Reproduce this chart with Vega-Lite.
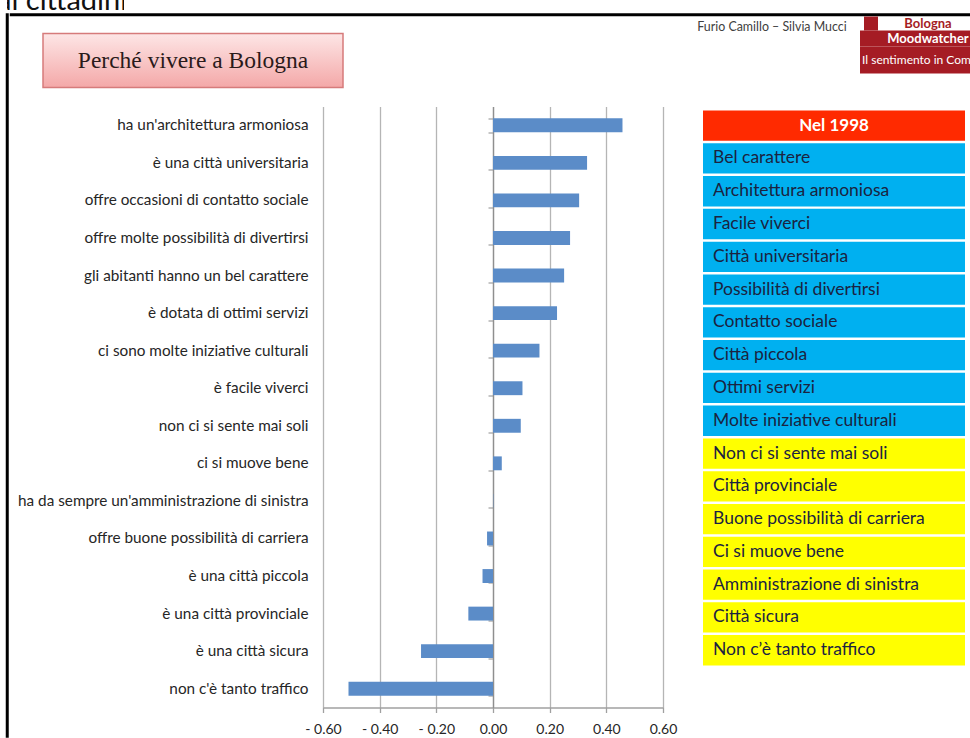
{
  "$schema": "https://vega.github.io/schema/vega-lite/v6.json",
  "background": "white",
  "padding": {"left": 5, "top": 0, "right": 0, "bottom": 0},
  "config": {"view": {"stroke": null}, "font": "Lato"},
  "datasets": {
    "testi": [
      {"ruolo": "intro", "testo": "ai cittadini."},
      {"ruolo": "titolo", "testo": "Perché vivere a Bologna"},
      {"ruolo": "autori", "testo": "Furio Camillo – Silvia Mucci"},
      {"ruolo": "logo1", "testo": "Bologna"},
      {"ruolo": "logo2", "testo": "Moodwatcher"},
      {"ruolo": "logo3", "testo": "Il sentimento in Comune"}
    ],
    "barre": [
      {"voce": "ha un'architettura armoniosa", "valore": 0.457},
      {"voce": "è una città universitaria", "valore": 0.332},
      {"voce": "offre occasioni di contatto sociale", "valore": 0.304},
      {"voce": "offre molte possibilità di divertirsi", "valore": 0.272},
      {"voce": "gli abitanti hanno un bel carattere", "valore": 0.251},
      {"voce": "è dotata di ottimi servizi", "valore": 0.226},
      {"voce": "ci sono molte iniziative culturali", "valore": 0.164},
      {"voce": "è facile viverci", "valore": 0.104},
      {"voce": "non ci si sente mai soli", "valore": 0.098},
      {"voce": "ci si muove bene", "valore": 0.031},
      {"voce": "ha da sempre un'amministrazione di sinistra", "valore": 0.001},
      {"voce": "offre buone possibilità di carriera", "valore": -0.021},
      {"voce": "è una città piccola", "valore": -0.037},
      {"voce": "è una città provinciale", "valore": -0.087},
      {"voce": "è una città sicura", "valore": -0.254},
      {"voce": "non c'è tanto traffico", "valore": -0.51}
    ],
    "tabella": [
      {"voce": "Nel 1998", "gruppo": "intestazione"},
      {"voce": "Bel carattere", "gruppo": "alto"},
      {"voce": "Architettura armoniosa", "gruppo": "alto"},
      {"voce": "Facile viverci", "gruppo": "alto"},
      {"voce": "Città universitaria", "gruppo": "alto"},
      {"voce": "Possibilità di divertirsi", "gruppo": "alto"},
      {"voce": "Contatto sociale", "gruppo": "alto"},
      {"voce": "Città piccola", "gruppo": "alto"},
      {"voce": "Ottimi servizi", "gruppo": "alto"},
      {"voce": "Molte iniziative culturali", "gruppo": "alto"},
      {"voce": "Non ci si sente mai soli", "gruppo": "basso"},
      {"voce": "Città provinciale", "gruppo": "basso"},
      {"voce": "Buone possibilità di carriera", "gruppo": "basso"},
      {"voce": "Ci si muove bene", "gruppo": "basso"},
      {"voce": "Amministrazione di sinistra", "gruppo": "basso"},
      {"voce": "Città sicura", "gruppo": "basso"},
      {"voce": "Non c’è tanto traffico", "gruppo": "basso"}
    ]
  },
  "spacing": 2.5,
  "vconcat": [
    {
      "width": 117, "height": 10,
      "data": {"name": "testi"},
      "transform": [{"filter": "datum.ruolo == 'intro'"}],
      "mark": {"type": "text", "clip": true, "fontSize": 29, "baseline": "alphabetic", "dy": 5, "color": "#111111", "font": "Lato"},
      "encoding": {"text": {"field": "testo"}}
    },
    {
      "spacing": 0,
      "hconcat": [
        {
          "width": 0.5, "height": 722,
          "data": {"values": []},
          "mark": {"type": "text", "text": ""},
          "view": {"stroke": "#000000", "strokeWidth": 2.5}
        },
        {
          "spacing": 0,
          "vconcat": [
            {
              "width": 958, "height": 0.5,
              "data": {"values": []},
              "mark": {"type": "text", "text": ""},
              "view": {"stroke": "#000000", "strokeWidth": 2.5}
            },
            {
              "spacing": 0,
              "hconcat": [
                {"width": 31, "height": 1, "data": {"values": []}, "mark": {"type": "text", "text": ""}},
                {
                  "spacing": 0,
                  "vconcat": [
                    {"width": 1, "height": 15.5, "data": {"values": []}, "mark": {"type": "text", "text": ""}},
                    {
                      "width": 300, "height": 54,
                      "data": {"name": "testi"},
                      "transform": [{"filter": "datum.ruolo == 'titolo'"}],
                      "mark": {"type": "text", "font": "Liberation Serif", "fontSize": 23.5, "color": "#2a1a1a"},
                      "encoding": {"text": {"field": "testo"}},
                      "view": {
                        "fill": {"gradient": "linear", "x1": 0, "y1": 0, "x2": 0, "y2": 1,
                          "stops": [{"offset": 0, "color": "#fde6e6"}, {"offset": 1, "color": "#f4a8a8"}]},
                        "stroke": "#d67b7b", "strokeWidth": 1.5
                      }
                    }
                  ]
                },
                {"width": 347.5, "height": 1, "data": {"values": []}, "mark": {"type": "text", "text": ""}},
                {
                  "width": 160, "height": 20,
                  "data": {"name": "testi"},
                  "transform": [{"filter": "datum.ruolo == 'autori'"}],
                  "mark": {"type": "text", "fontSize": 12.4, "color": "#404040", "font": "Lato"},
                  "encoding": {"text": {"field": "testo"}}
                },
                {"width": 7.5, "height": 1, "data": {"values": []}, "mark": {"type": "text", "text": ""}},
                {
                  "spacing": 0,
                  "vconcat": [
                    {
                      "spacing": 0,
                      "hconcat": [
                        {"width": 4, "height": 14, "data": {"values": []}, "mark": {"type": "text", "text": ""}},
                        {"width": 14, "height": 14, "data": {"values": []}, "mark": {"type": "text", "text": ""}, "view": {"fill": "#a51c24"}},
                        {"width": 5, "height": 14, "data": {"values": []}, "mark": {"type": "text", "text": ""}},
                        {
                          "width": 90, "height": 14,
                          "data": {"name": "testi"},
                          "transform": [{"filter": "datum.ruolo == 'logo1'"}],
                          "mark": {"type": "text", "fontSize": 13, "fontWeight": "bold", "color": "#a51c24", "font": "Lato"},
                          "encoding": {"text": {"field": "testo"}}
                        }
                      ]
                    },
                    {
                      "spacing": 0,
                      "hconcat": [
                        {"width": 23, "height": 16, "data": {"values": []}, "mark": {"type": "text", "text": ""}, "view": {"fill": "#a51c24"}},
                        {
                          "width": 90, "height": 16,
                          "data": {"name": "testi"},
                          "transform": [{"filter": "datum.ruolo == 'logo2'"}],
                          "mark": {"type": "text", "fontSize": 13, "fontWeight": "bold", "color": "#ffffff", "font": "Lato"},
                          "encoding": {"text": {"field": "testo"}},
                          "view": {"fill": "#a51c24"}
                        }
                      ]
                    },
                    {
                      "width": 113, "height": 27,
                      "data": {"name": "testi"},
                      "transform": [{"filter": "datum.ruolo == 'logo3'"}],
                      "mark": {"type": "text", "fontSize": 12, "color": "#ffffff", "font": "Lato", "limit": 110, "ellipsis": "\u200b"},
                      "encoding": {"text": {"field": "testo"}},
                      "view": {"fill": "#a51c24"}
                    }
                  ]
                }
              ]
            },
            {"width": 1, "height": 17.5, "data": {"values": []}, "mark": {"type": "text", "text": ""}},
            {
              "spacing": 40,
              "bounds": "flush",
              "hconcat": [
                {"width": 272, "height": 1, "data": {"values": []}, "mark": {"type": "text", "text": ""}},
                {
                  "width": 340, "height": 601,
                  "data": {"name": "barre"},
                  "layer": [
                    {
                      "mark": {"type": "bar", "color": "#5b8cc8"},
                      "encoding": {
                        "y": {
                          "field": "voce", "type": "nominal", "sort": null,
                          "scale": {"paddingInner": 0.63, "paddingOuter": 0.315},
                          "axis": {"orient": "left", "title": null, "domain": false, "ticks": false, "tickSize": 0,
                            "labelPadding": 15, "labelLimit": 500, "labelFontSize": 15.3, "labelFont": "Lato",
                            "labelColor": "#262626", "grid": false}
                        },
                        "x": {
                          "field": "valore", "type": "quantitative",
                          "scale": {"domain": [-0.6, 0.6], "nice": false, "zero": false},
                          "axis": {"title": null, "values": [-0.6, -0.4, -0.2, 0, 0.2, 0.4, 0.6],
                            "grid": true, "gridColor": "#b5b5b5", "gridWidth": 1.3,
                            "domainColor": "#a0a0a0", "domainWidth": 1.3,
                            "tickColor": "#a0a0a0", "tickWidth": 1.3, "tickSize": 5,
                            "labelPadding": 10, "labelFontSize": 14, "labelFont": "Lato", "labelColor": "#262626",
                            "labelFlush": false, "labelOverlap": false,
                            "labelExpr": "datum.value < -0.001 ? '- ' + format(-datum.value, '.2f') : format(abs(datum.value), '.2f')"}
                        }
                      }
                    },
                    {
                      "mark": {"type": "point", "opacity": 0},
                      "encoding": {
                        "y": {
                          "field": "voce", "type": "nominal", "sort": null,
                          "axis": {"orient": "left", "offset": -170, "labels": false, "title": null,
                            "domain": true, "domainColor": "#8f8f8f", "domainWidth": 1.3,
                            "ticks": true, "tickBand": "extent", "tickSize": 5, "tickColor": "#a0a0a0", "tickWidth": 1.2,
                            "grid": false}
                        },
                        "x": {"field": "valore", "type": "quantitative"}
                      }
                    }
                  ],
                  "resolve": {"axis": {"y": "independent"}}
                },
                {
                  "width": 262, "height": 601,
                  "data": {"name": "tabella"},
                  "encoding": {
                    "y": {"field": "voce", "type": "nominal", "sort": null, "axis": null,
                      "scale": {"paddingInner": 0.076, "paddingOuter": 0.703, "align": 0.087}}
                  },
                  "layer": [
                    {
                      "mark": {"type": "bar"},
                      "encoding": {
                        "x": {"datum": 0, "type": "quantitative", "scale": {"domain": [0, 1], "nice": false}, "axis": null},
                        "x2": {"datum": 1},
                        "color": {"field": "gruppo", "type": "nominal", "legend": null,
                          "scale": {"domain": ["intestazione", "alto", "basso"], "range": ["#ff2a00", "#00b0f0", "#ffff00"]}}
                      }
                    },
                    {
                      "transform": [{"filter": "datum.gruppo == 'intestazione'"}],
                      "mark": {"type": "text", "font": "Lato", "fontWeight": "bold", "fontSize": 17, "color": "#ffffff"},
                      "encoding": {"text": {"field": "voce"}}
                    },
                    {
                      "transform": [{"filter": "datum.gruppo != 'intestazione'"}],
                      "mark": {"type": "text", "font": "Lato", "fontSize": 17.5, "color": "#1b2340", "align": "left", "dx": 10},
                      "encoding": {
                        "x": {"datum": 0, "type": "quantitative"},
                        "text": {"field": "voce"}
                      }
                    }
                  ]
                }
              ]
            }
          ]
        }
      ]
    }
  ]
}
